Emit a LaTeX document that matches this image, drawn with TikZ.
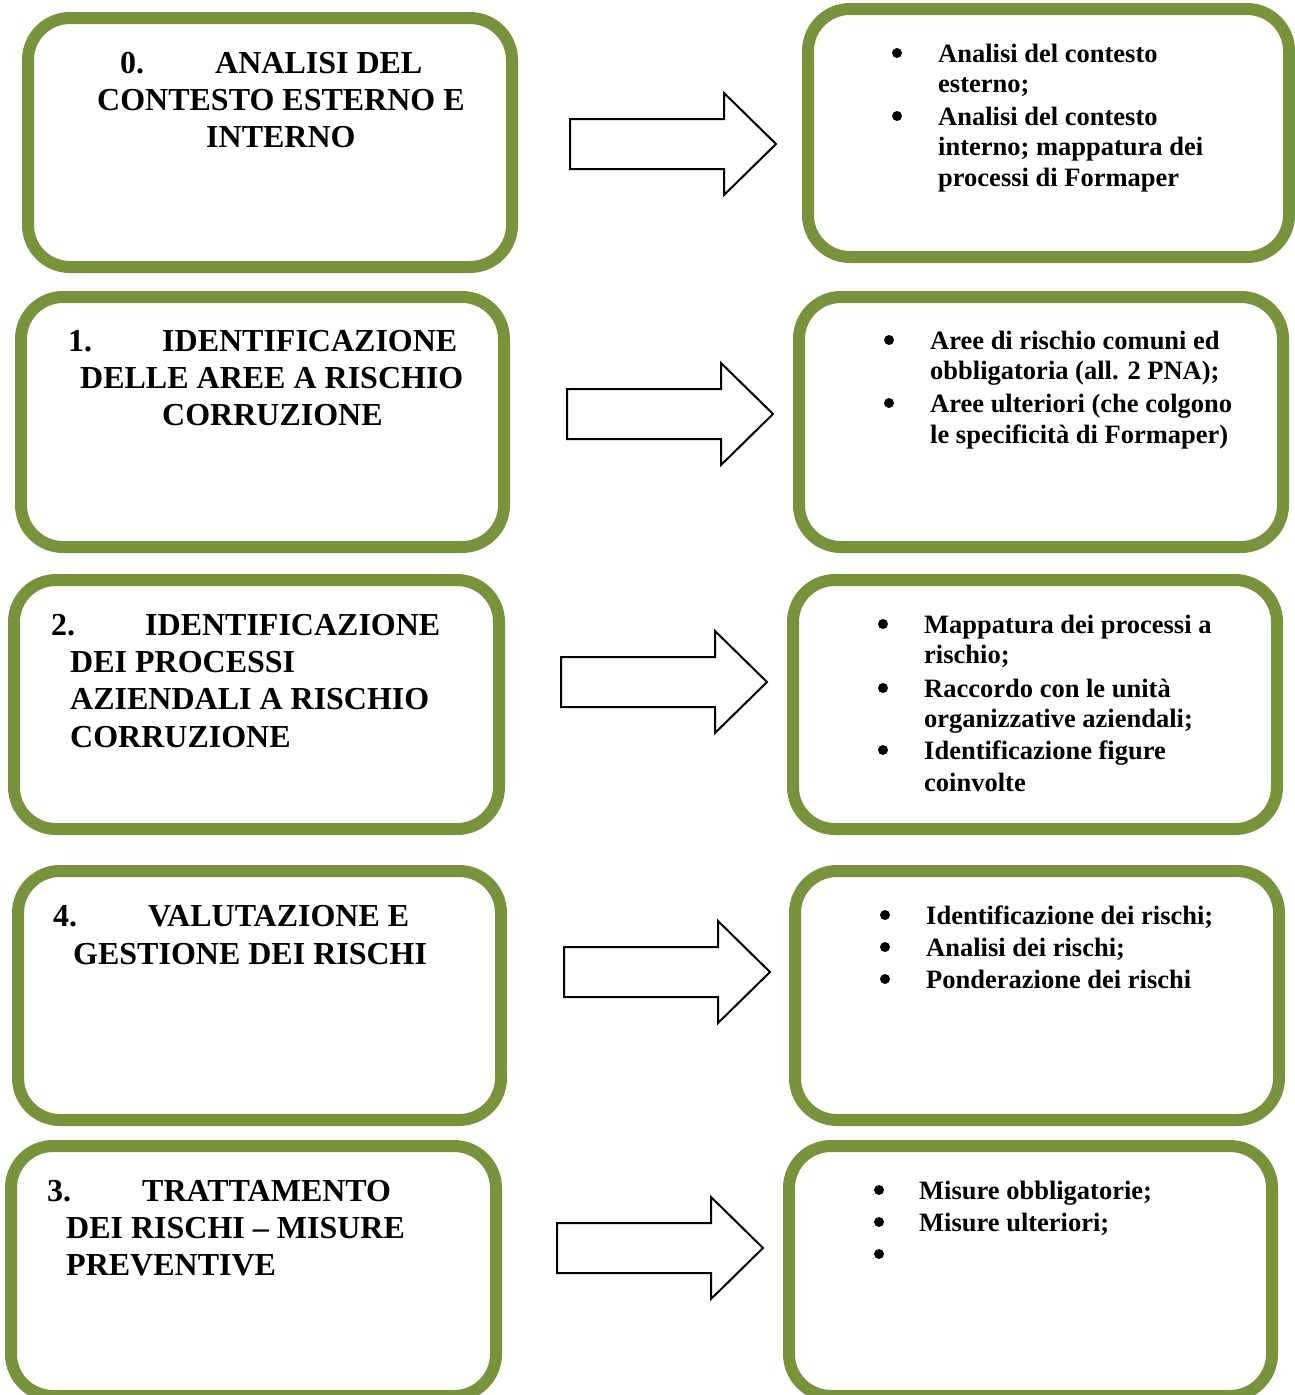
\documentclass[tikz,border=0pt]{standalone}
\usepackage{fontspec}
\setmainfont{Liberation Serif}
\definecolor{boxgreen}{RGB}{119,147,60}
\begin{document}
\begin{tikzpicture}[x=1pt,y=-1pt,
  gbox/.style={draw=boxgreen, line width=12pt, rounded corners=42pt, fill=white, inner sep=0pt, rectangle},
  ttl/.style={anchor=base west, inner sep=0pt, font=\fontsize{32}{37}\selectfont\bfseries},
  itm/.style={anchor=base west, inner sep=0pt, font=\fontsize{26.5}{30}\selectfont\bfseries},
  bul/.style={circle, fill=black, inner sep=0pt, minimum size=10pt},
  barrow/.pic={\draw[line width=2pt, fill=white, line join=miter]
     (0,-25) -- (154,-25) -- (154,-51) -- (206,0) -- (154,51) -- (154,25) -- (0,25) -- cycle;}
]
\useasboundingbox (0,0) rectangle (1295,1395);
\clip (0,0) rectangle (1295,1395);
\fill[white] (0,0) rectangle (1295,1395);

% ---------- boxes ----------
\node[gbox, minimum width=484pt, minimum height=249pt] (L0) at (270,142.5) {};
\node[gbox, minimum width=481pt, minimum height=248pt] (R0) at (1048.5,133) {};
\node[gbox, minimum width=483pt, minimum height=250pt] (L1) at (262.5,422) {};
\node[gbox, minimum width=484pt, minimum height=250pt] (R1) at (1041,422) {};
\node[gbox, minimum width=485pt, minimum height=249pt] (L2) at (256.5,704.5) {};
\node[gbox, minimum width=484pt, minimum height=249pt] (R2) at (1035,704.5) {};
\node[gbox, minimum width=483pt, minimum height=249pt] (L4) at (259.5,995.5) {};
\node[gbox, minimum width=484pt, minimum height=249pt] (R4) at (1037,995.5) {};
\node[gbox, minimum width=485pt, minimum height=250pt] (L3) at (253.5,1271) {};
\node[gbox, minimum width=483pt, minimum height=250pt] (R3) at (1030.5,1271) {};

% ---------- block arrows ----------
\pic (A0) at (570,144) {barrow};
\pic (A1) at (567,414) {barrow};
\pic (A2) at (561,682) {barrow};
\pic (A4) at (564,972) {barrow};
\pic (A3) at (557,1248) {barrow};

% ---------- left titles ----------
\node[ttl] (t0n) at (120,73) {0.};
\node[ttl] (t0a) at (215,73) {ANALISI DEL};
\node[ttl] (t0b) at (97,110) {CONTESTO ESTERNO E};
\node[ttl] (t0c) at (206,147) {INTERNO};

\node[ttl] (t1n) at (68,351) {1.};
\node[ttl] (t1a) at (162,351) {IDENTIFICAZIONE};
\node[ttl] (t1b) at (80,388) {DELLE AREE A RISCHIO};
\node[ttl] (t1c) at (162,425) {CORRUZIONE};

\node[ttl] (t2n) at (51,635) {2.};
\node[ttl] (t2a) at (145,635) {IDENTIFICAZIONE};
\node[ttl] (t2b) at (70,672) {DEI PROCESSI};
\node[ttl] (t2c) at (70,709) {AZIENDALI A RISCHIO};
\node[ttl] (t2d) at (70,747) {CORRUZIONE};

\node[ttl] (t4n) at (53,926) {4.};
\node[ttl] (t4a) at (148,926) {VALUTAZIONE E};
\node[ttl] (t4b) at (73,964) {GESTIONE DEI RISCHI};

\node[ttl] (t3n) at (47,1201) {3.};
\node[ttl] (t3a) at (142,1201) {TRATTAMENTO};
\node[ttl] (t3b) at (66,1238) {DEI RISCHI – MISURE};
\node[ttl] (t3c) at (66,1275) {PREVENTIVE};

% ---------- right lists ----------
\node[bul] (b0a) at (897,53) {};
\node[itm] (r0a) at (938,62) {Analisi del contesto};
\node[itm] (r0b) at (938,92) {esterno;};
\node[bul] (b0b) at (897,116) {};
\node[itm] (r0c) at (938,125) {Analisi del contesto};
\node[itm] (r0d) at (938,155) {interno; mappatura dei};
\node[itm] (r0e) at (938,186) {processi di Formaper};

\node[bul] (b1a) at (889,340) {};
\node[itm] (r1a) at (930,349) {Aree di rischio comuni ed};
\node[itm] (r1b) at (930,379) {obbligatoria (all. 2 PNA);};
\node[bul] (b1b) at (889,403) {};
\node[itm] (r1c) at (930,412) {Aree ulteriori (che colgono};
\node[itm] (r1d) at (930,443) {le specificità di Formaper)};

\node[bul] (b2a) at (883,624) {};
\node[itm] (r2a) at (924,633) {Mappatura dei processi a};
\node[itm] (r2b) at (924,663) {rischio;};
\node[bul] (b2b) at (883,688) {};
\node[itm] (r2c) at (924,697) {Raccordo con le unità};
\node[itm] (r2d) at (924,727) {organizzative aziendali;};
\node[bul] (b2c) at (883,750) {};
\node[itm] (r2e) at (924,759) {Identificazione figure};
\node[itm] (r2f) at (924,791) {coinvolte};

\node[bul] (b4a) at (885,915) {};
\node[itm] (r4a) at (926,924) {Identificazione dei rischi;};
\node[bul] (b4b) at (885,947) {};
\node[itm] (r4b) at (926,956) {Analisi dei rischi;};
\node[bul] (b4c) at (885,979) {};
\node[itm] (r4c) at (926,988) {Ponderazione dei rischi};

\node[bul] (b3a) at (879,1190) {};
\node[itm] (r3a) at (919,1199) {Misure obbligatorie;};
\node[bul] (b3b) at (879,1222) {};
\node[itm] (r3b) at (919,1231) {Misure ulteriori;};
\node[bul] (b3c) at (879,1254) {};
\end{tikzpicture}
\end{document}
